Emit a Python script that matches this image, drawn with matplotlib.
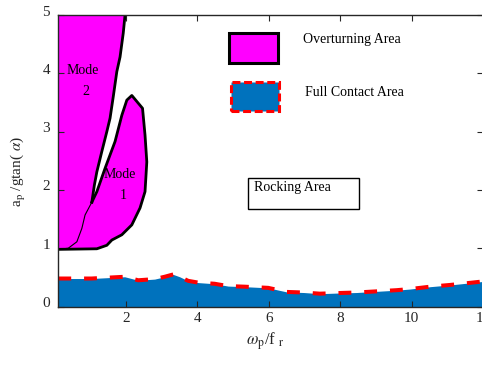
import matplotlib
matplotlib.use("Agg")
import matplotlib.pyplot as plt
import matplotlib.transforms as mtransforms
from matplotlib.patches import Rectangle, Polygon

plt.rcParams["font.family"] = ["Liberation Serif", "DejaVu Serif"]
plt.rcParams["mathtext.fontset"] = "stix"

# full-contact boundary (upper edge of the blue region)
contact_x = [0.10, 1.03, 1.96, 2.34, 2.80, 3.08, 3.32, 3.50, 3.74, 4.02, 4.48,
             4.86, 5.32, 5.98, 6.50, 6.97, 7.43, 7.90, 8.46, 9.02, 9.58, 9.96,
             10.52, 11.08, 11.55, 12.00]
contact_y = [0.48, 0.48, 0.51, 0.45, 0.47, 0.51, 0.55, 0.51, 0.44, 0.41, 0.39,
             0.35, 0.34, 0.32, 0.25, 0.24, 0.22, 0.23, 0.24, 0.26, 0.28, 0.30,
             0.34, 0.37, 0.40, 0.43]

# mode 2 right boundary, from the top edge down to where it meets mode 1
mode2_edge_x = [1.97, 1.92, 1.83, 1.74, 1.64, 1.55, 1.46, 1.32, 1.18, 1.11, 1.04]
mode2_edge_y = [5.00, 4.69, 4.28, 4.03, 3.60, 3.23, 3.00, 2.66, 2.31, 2.08, 1.79]

# thin seam between the two modes, from the left axis up to the junction
seam_x = [0.10, 0.38, 0.62, 0.76, 0.85, 1.04]
seam_y = [0.98, 1.00, 1.11, 1.34, 1.57, 1.79]

# mode 1 outline, from the junction up over the peak and back along the bottom
mode1_x = [1.04, 1.18, 1.41, 1.69, 1.88, 2.02, 2.16, 2.46, 2.53, 2.58, 2.53,
           2.39, 2.16, 1.88, 1.60, 1.46, 1.18, 0.10]
mode1_y = [1.79, 1.97, 2.37, 2.83, 3.28, 3.54, 3.62, 3.40, 2.94, 2.48, 1.97,
           1.69, 1.40, 1.23, 1.14, 1.05, 0.99, 0.98]

x_ticks = [2, 4, 6, 8, 10, 12]
y_ticks = [0, 1, 2, 3, 4, 5]

W, H = 482, 367
MAGENTA = "#FF00FF"
BLUE = "#0072BD"
INK = "#262626"


def px(x, y):
    """pixel position (from top-left) -> figure fraction"""
    return x / W, 1 - y / H


fig = plt.figure(figsize=(W / 100, H / 100), dpi=100)
ax = fig.add_axes([58.3 / W, 1 - 306.5 / H, (483 - 58.3) / W, (306.5 - 15) / H])

# overturning regions
mode2_poly = list(zip(seam_x, seam_y)) + list(zip(mode2_edge_x[::-1], mode2_edge_y[::-1])) + [(0.10, 5.0)]
ax.add_patch(Polygon(mode2_poly, closed=True, facecolor=MAGENTA, edgecolor="none"))
mode1_poly = list(zip(mode1_x, mode1_y)) + list(zip(seam_x[::-1], seam_y[::-1]))
ax.add_patch(Polygon(mode1_poly, closed=True, facecolor=MAGENTA, edgecolor="none"))
ax.plot(mode2_edge_x, mode2_edge_y, color="black", lw=2.0, solid_joinstyle="round")
ax.plot(mode1_x, mode1_y, color="black", lw=2.0, solid_joinstyle="round")
ax.plot(seam_x, seam_y, color="black", lw=0.8)

# full contact region
ax.fill_between(contact_x, 0, contact_y, color=BLUE, lw=0)
ax.plot(contact_x, contact_y, color="red", lw=2.9, dashes=(3.2, 3.2))

ax.text(0.34, 4.04, "Mode", fontsize=10, va="center", ha="left")
ax.text(0.87, 3.68, "2", fontsize=10, va="center", ha="center")
ax.text(1.36, 2.27, "Mode", fontsize=10, va="center", ha="left")
ax.text(1.91, 1.91, "1", fontsize=10, va="center", ha="center")

ax.set_xlim(0.1, 12)
ax.set_ylim(0, 5)
ax.set_xticks(x_ticks)
ax.set_yticks(y_ticks)
ax.tick_params(direction="in", top=True, right=True, length=4, width=0.8,
               colors=INK, labelsize=11)
ax.tick_params(axis="x", pad=4)
ax.tick_params(axis="y", pad=6)
for spine in ax.spines.values():
    spine.set_color(INK)
    spine.set_linewidth(1.0)

lift = mtransforms.ScaledTranslation(0, 0.045, fig.dpi_scale_trans)
for tick in ax.yaxis.get_major_ticks():
    tick.label1.set_transform(tick.label1.get_transform() + lift)

# hand-drawn key
x0, y0 = px(229.3, 62.7)
fig.add_artist(Rectangle((x0, y0), 48.4 / W, 29.4 / H, transform=fig.transFigure,
                         facecolor=MAGENTA, edgecolor="black", lw=2.2))
x0, y0 = px(231, 110.7)
fig.add_artist(Rectangle((x0, y0), 48 / W, 29 / H, transform=fig.transFigure,
                         facecolor=BLUE, edgecolor="red", lw=2.2, linestyle=(0, (2.6, 1.2))))
x0, y0 = px(248.3, 209.3)
fig.add_artist(Rectangle((x0, y0), 111 / W, 31 / H, transform=fig.transFigure,
                         facecolor="white", edgecolor="black", lw=1.0))

fig.text(*px(302.7, 40), "Overturning Area", fontsize=10, va="center", ha="left")
fig.text(*px(305, 92.7), "Full Contact Area", fontsize=10, va="center", ha="left")
fig.text(*px(254, 187), "Rocking Area", fontsize=10, va="center", ha="left")

fig.text(*px(18, 171), r"a$_{\mathrm{p}}$ /gtan( $\alpha$)", fontsize=11,
         rotation=90, ha="center", va="center", color=INK)
fig.text(*px(265, 341), r"$\omega_{\mathrm{p}}$/f $_{\mathrm{r}}$", fontsize=12,
         ha="center", va="center", color=INK)

fig.savefig("out.png", dpi=100)
